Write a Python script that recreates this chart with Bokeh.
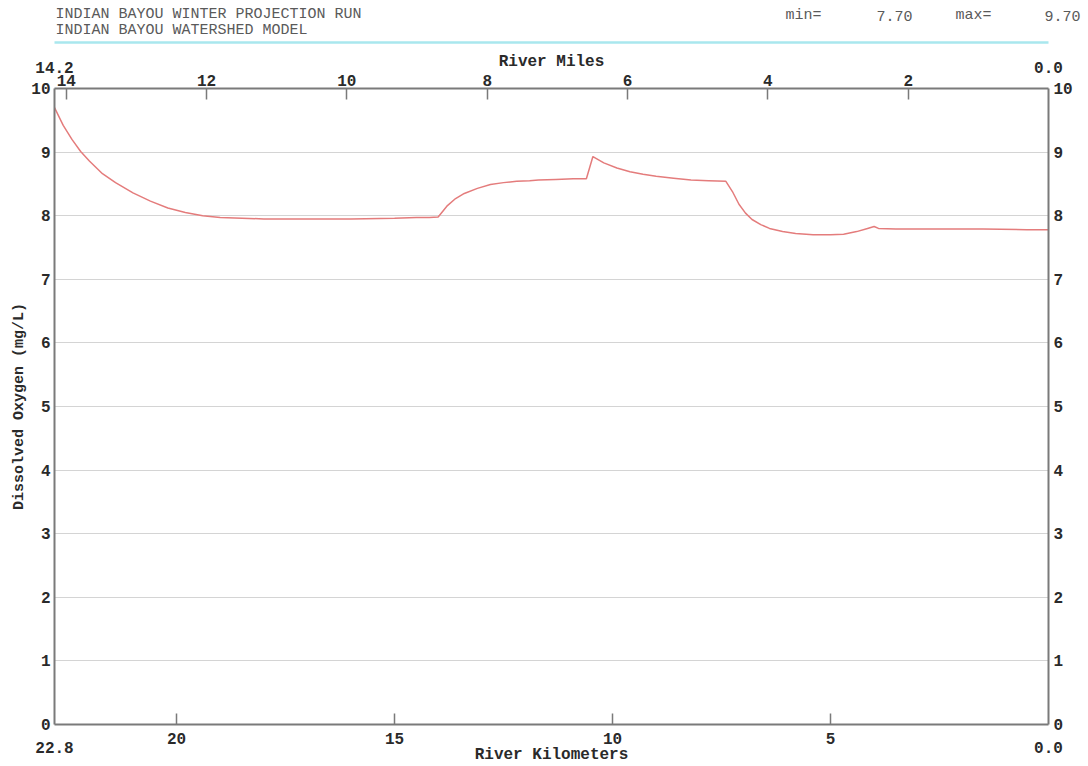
from bokeh.plotting import figure
from bokeh.layouts import column
from bokeh.models import Range1d, LinearAxis, FixedTicker, Grid
from bokeh.core.properties import value
from bokeh.embed import file_html
from bokeh.resources import INLINE

# ---- data ----
river_km = [22.8, 22.6, 22.4, 22.2, 22.0, 21.7, 21.4, 21.0, 20.6, 20.2, 19.8, 19.4, 19.0,
            18.5, 18.0, 17.0, 16.0, 15.0, 14.5, 14.2, 14.0, 13.8, 13.6, 13.4, 13.1, 12.8,
            12.5, 12.2, 11.9, 11.7, 11.3, 10.9, 10.6, 10.45, 10.2, 9.9, 9.6, 9.3, 9.0, 8.6,
            8.2, 7.8, 7.4, 7.25, 7.1, 6.95, 6.8, 6.6, 6.4, 6.1, 5.8, 5.4, 5.0, 4.7, 4.4,
            4.15, 4.0, 3.9, 3.5, 2.5, 1.5, 0.5, 0.0]
dissolved_oxygen = [9.70, 9.42, 9.20, 9.01, 8.86, 8.66, 8.52, 8.36, 8.23, 8.12, 8.05, 8.00, 7.97,
                    7.96, 7.95, 7.95, 7.95, 7.96, 7.97, 7.97, 7.98, 8.15, 8.27, 8.35, 8.43, 8.49,
                    8.52, 8.54, 8.55, 8.56, 8.57, 8.58, 8.58, 8.93, 8.83, 8.75, 8.69, 8.65, 8.62, 8.59,
                    8.56, 8.55, 8.54, 8.38, 8.18, 8.04, 7.94, 7.86, 7.80, 7.75, 7.72, 7.70, 7.70, 7.71, 7.75,
                    7.80, 7.83, 7.80, 7.79, 7.79, 7.79, 7.78, 7.78]
km_ticks = [20, 15, 10, 5]
mile_ticks = [14, 12, 10, 8, 6, 4, 2]
do_ticks = [0, 1, 2, 3, 4, 5, 6, 7, 8, 9, 10]
grid_ticks = [1, 2, 3, 4, 5, 6, 7, 8, 9]
km_total = 22.8
miles_total = km_total / 1.609344
km_end_labels = ["22.8", "0.0"]
mile_end_labels = ["14.2", "0.0"]

header_texts = ["INDIAN BAYOU WINTER PROJECTION RUN", "INDIAN BAYOU WATERSHED MODEL",
                "min=", "7.70", "max=", "9.70"]
header_x = [55, 55, 785, 876, 955, 1044]
header_y = [14, 30, 15, 15, 15, 15]
rule_x = [54, 1048]
rule_y = [42, 42]

FONT = "Liberation Mono"
TXT = "#2a2a2a"
AX = "#7a7a7a"
W = 1086

# ---- header strip ----
head = figure(width=W, height=48, output_backend="svg", toolbar_location=None,
              x_range=Range1d(0, W), y_range=Range1d(48, 0),
              x_axis_location=None, y_axis_location=None,
              min_border=0, min_border_left=0, min_border_right=0,
              min_border_top=0, min_border_bottom=0, outline_line_color=None)
head.grid.visible = False
head.text(x=header_x, y=header_y, text=header_texts, text_font=value(FONT),
          text_font_size="15px", text_color="#5a5a5a", text_baseline="middle",
          text_align="left")
head.line(rule_x, rule_y, line_color="#a9e7ee", line_width=2.5)

# ---- main chart ----
p = figure(width=W, height=718, output_backend="svg", toolbar_location=None,
           x_range=Range1d(km_total, 0), y_range=Range1d(0, 10),
           x_axis_location=None, y_axis_location=None,
           min_border_left=54, min_border_right=W - 1048, min_border_top=40, min_border_bottom=42,
           outline_line_color=None)
p.extra_x_ranges = {"miles": Range1d(miles_total, 0)}
p.grid.visible = False

for fig in (head, p):
    if "frame_align" in fig.properties():
        fig.frame_align = False


def style(ax, tick_in, label_standoff, title_standoff):
    ax.axis_line_color = AX
    ax.axis_line_width = 2
    ax.major_tick_line_color = AX
    ax.major_tick_line_width = 1.5
    ax.major_tick_in = tick_in
    ax.major_tick_out = 0
    ax.minor_tick_line_color = None
    ax.major_label_text_font = FONT
    ax.major_label_text_font_style = "bold"
    ax.major_label_text_font_size = "16px"
    ax.major_label_text_color = TXT
    ax.major_label_standoff = label_standoff
    ax.axis_label_text_font = FONT
    ax.axis_label_text_font_style = "bold"
    ax.axis_label_text_font_size = "16px"
    ax.axis_label_text_color = TXT
    ax.axis_label_standoff = title_standoff


# bottom: kilometre ticks, then end values and title on an outer axis
bottom = LinearAxis(ticker=FixedTicker(ticks=km_ticks))
style(bottom, 11, 8, 0)
p.add_layout(bottom, "below")

bottom_ends = LinearAxis(ticker=FixedTicker(ticks=[km_total, 0]), axis_label="River Kilometers",
                         major_label_overrides={km_total: km_end_labels[0], 0: km_end_labels[1]})
style(bottom_ends, 0, -5, -10)
bottom_ends.axis_line_color = None
bottom_ends.major_tick_line_color = None
p.add_layout(bottom_ends, "below")

# top: mile ticks, then end values and title on an outer axis
top = LinearAxis(ticker=FixedTicker(ticks=mile_ticks), x_range_name="miles")
style(top, 11, 3, 0)
p.add_layout(top, "above")

top_ends = LinearAxis(ticker=FixedTicker(ticks=[miles_total, 0]), x_range_name="miles",
                      axis_label="River Miles",
                      major_label_overrides={miles_total: mile_end_labels[0], 0: mile_end_labels[1]})
style(top_ends, 0, -1, -12)
top_ends.axis_line_color = None
top_ends.major_tick_line_color = None
p.add_layout(top_ends, "above")

left = LinearAxis(ticker=FixedTicker(ticks=do_ticks), axis_label="Dissolved Oxygen (mg/L)")
style(left, 0, 4, 0)
left.axis_label_text_font_size = "15px"
p.add_layout(left, "left")

right = LinearAxis(ticker=FixedTicker(ticks=do_ticks))
style(right, 0, 5, 0)
p.add_layout(right, "right")

p.add_layout(Grid(dimension=1, ticker=FixedTicker(ticks=grid_ticks),
                  grid_line_color="#d4d4d4", grid_line_width=1))

p.line(river_km, dissolved_oxygen, line_color="#e47c7c", line_width=1.5)

layout = column(head, p, spacing=0)
open("out.html", "w").write(file_html(layout, INLINE))
